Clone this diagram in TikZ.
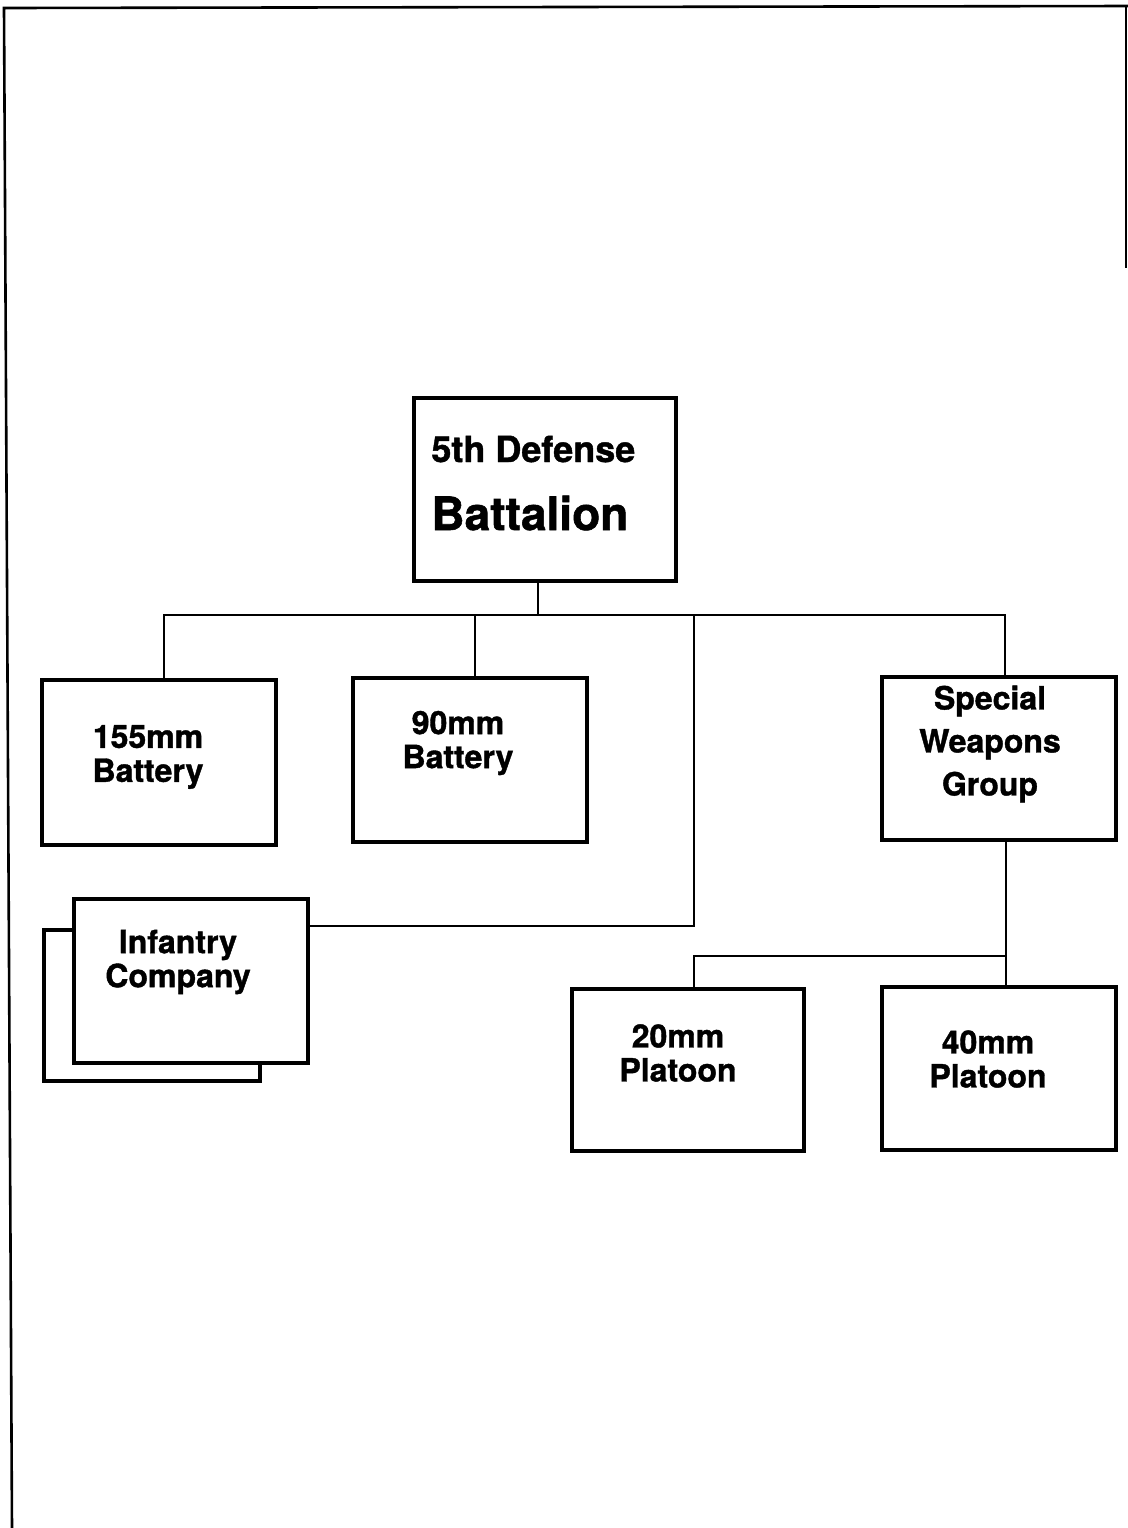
\documentclass[tikz,border=0pt]{standalone}
\usepackage{fontspec}
\setmainfont{TeX Gyre Heros}[BoldFeatures={FakeBold=1.2}]
\begin{document}
\begin{tikzpicture}[x=0.5pt,y=-0.5pt,
  box/.style={draw,line width=2.2pt,fill=white,inner sep=0pt,outer sep=0pt},
  conn/.style={line width=1pt},
  frame/.style={line width=1.3pt},
  lbl/.style={font=\bfseries\fontsize{16}{17}\selectfont,align=center,inner sep=0pt}]
\useasboundingbox (0,0) rectangle (1128,1528);
% page frame
\coordinate (f1) at (4,8);
\coordinate (f2) at (12,1528);
\coordinate (f3) at (1128,6);
\coordinate (f4) at (1126,6);
\coordinate (f5) at (1126,268);
\draw[frame] (f2) -- (f1) -- (f3);
\draw[frame] (f4) -- (f5);
% boxes
\node[box,minimum width=131pt,minimum height=91.5pt] (top) at (545,489.5) {};
\node[box,minimum width=117pt,minimum height=82.5pt] (b155) at (159,762.5) {};
\node[box,minimum width=117pt,minimum height=82pt] (b90) at (470,760) {};
\node[box,minimum width=117pt,minimum height=81.5pt] (swg) at (999,758.5) {};
\node[box,minimum width=108pt,minimum height=75.5pt] (infback) at (152,1005.5) {};
\node[box,minimum width=117pt,minimum height=82pt] (inf) at (191,981) {};
\node[box,minimum width=116pt,minimum height=81pt] (p20) at (688,1070) {};
\node[box,minimum width=117pt,minimum height=81.5pt] (p40) at (999,1068.5) {};
% connectors
\coordinate (stem) at (538,615);
\coordinate (bL) at (164,615);
\coordinate (bR) at (1005,615);
\coordinate (bn) at (475,615);
\coordinate (bi) at (694,615);
\coordinate (ic) at (694,926);
\coordinate (sw) at (1006,956);
\coordinate (pc) at (694,956);
\draw[conn] (stem |- top.south) -- (stem);
\draw[conn] (bL |- b155.north) -- (bL) -- (bR) -- (bR |- swg.north);
\draw[conn] (bn) -- (bn |- b90.north);
\draw[conn] (bi) -- (ic) -- (ic -| inf.east);
\draw[conn] (sw |- swg.south) -- (sw |- p40.north);
\draw[conn] (sw) -- (pc) -- (pc |- p20.north);
% labels
\node[anchor=base west,inner sep=0pt,font=\bfseries\fontsize{18}{20}\selectfont] (t5a) at (431,462) {5th Defense};
\node[anchor=base west,inner sep=0pt,font=\bfseries\fontsize{23}{26}\selectfont] (t5b) at (431,530) {Battalion};
\node[lbl] (t155) at (148,757) {155mm\\Battery};
\node[lbl] (t90) at (458,743) {90mm\\Battery};
\node[lbl,font=\bfseries\fontsize{16}{21.5}\selectfont] (tswg) at (990,744) {Special\\Weapons\\Group};
\node[lbl] (tinf) at (178,962) {Infantry\\Company};
\node[lbl] (t20) at (678,1053) {20mm\\Platoon};
\node[lbl] (t40) at (988,1059) {40mm\\Platoon};
\end{tikzpicture}
\end{document}
